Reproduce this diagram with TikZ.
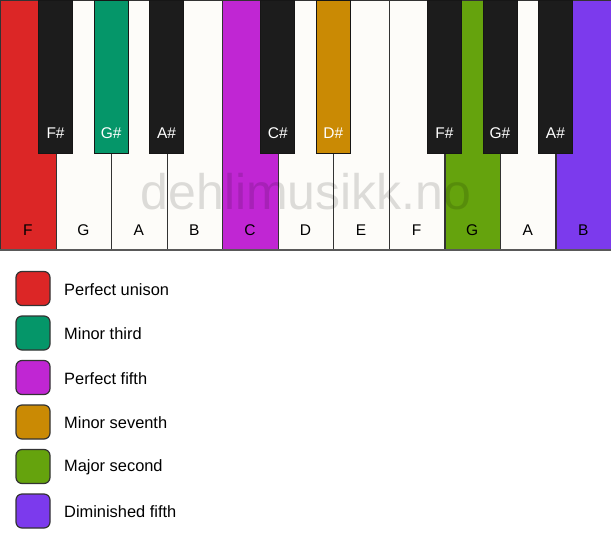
\documentclass[tikz,border=0pt]{standalone}
\usepackage{fontspec}
\setmainfont{Liberation Sans}
\definecolor{cRed}{HTML}{DC2626}
\definecolor{cTeal}{HTML}{059669}
\definecolor{cMag}{HTML}{C026D3}
\definecolor{cGold}{HTML}{CA8A04}
\definecolor{cGreen}{HTML}{65A30D}
\definecolor{cViolet}{HTML}{7C3AED}
\definecolor{cBlack}{HTML}{1C1C1C}
\definecolor{cWhite}{HTML}{FDFCF9}
\definecolor{cEdge}{HTML}{333333}
\begin{document}
\begin{tikzpicture}[x=1pt,y=-1pt,
  whitekey/.style={draw=cEdge,line width=1.2pt,minimum width=55.545pt,minimum height=249pt,inner sep=0pt,anchor=north west,fill=cWhite},
  blackkey/.style={draw=cBlack!80!black,line width=0.8pt,minimum width=34pt,minimum height=153pt,inner sep=0pt,anchor=north,fill=cBlack},
  wlabel/.style={font=\fontsize{15.5}{15.5}\selectfont,text=black},
  blabel/.style={font=\fontsize{15.5}{15.5}\selectfont,text=white},
  swatch/.style={draw=cEdge,line width=1.2pt,rounded corners=6pt,minimum width=34pt,minimum height=34pt,inner sep=0pt},
  legtext/.style={font=\fontsize{16.4}{16.4}\selectfont,anchor=west,inner sep=0pt}]
\useasboundingbox (0,0) rectangle (611,550);
\fill[white] (0,0) rectangle (611,550);
% white keys
\foreach \i/\n/\c in {0/F/cRed,1/G/cWhite,2/A/cWhite,3/B/cWhite,4/C/cMag,5/D/cWhite,6/E/cWhite,7/F/cWhite,8/G/cGreen,9/A/cWhite,10/B/cViolet}{
  \node[whitekey,fill=\c] (w\i) at ({\i*55.545},0) {};
  \node[wlabel] (wl\i) at ({\i*55.545+27.77},230) {\n};
}
\draw[line width=2pt,draw=black!65] (w0.south west) -- (w10.south east);
% black keys
\foreach \i/\n/\c in {1/F\#/cBlack,2/G\#/cTeal,3/A\#/cBlack,5/C\#/cBlack,6/D\#/cGold,8/F\#/cBlack,9/G\#/cBlack,10/A\#/cBlack}{
  \node[blackkey,fill=\c] (b\i) at ({\i*55.545},0) {};
  \node[blabel] (bl\i) at ({\i*55.545},133) {\n};
}
% watermark
\node[font=\fontsize{50}{50}\selectfont,text=black,text opacity=0.13,inner sep=0pt] (wm) at (306,192) {dehlimusikk.no};
% legend
\foreach \j/\c/\t in {0/cRed/Perfect unison,1/cTeal/Minor third,2/cMag/Perfect fifth,3/cGold/Minor seventh,4/cGreen/Major second,5/cViolet/Diminished fifth}{
  \node[swatch,fill=\c] (s\j) at (33,{288.5+44.5*\j}) {};
  \node[legtext] (t\j) at (64,{289.5+44.5*\j}) {\t};
}
\end{tikzpicture}
\end{document}
